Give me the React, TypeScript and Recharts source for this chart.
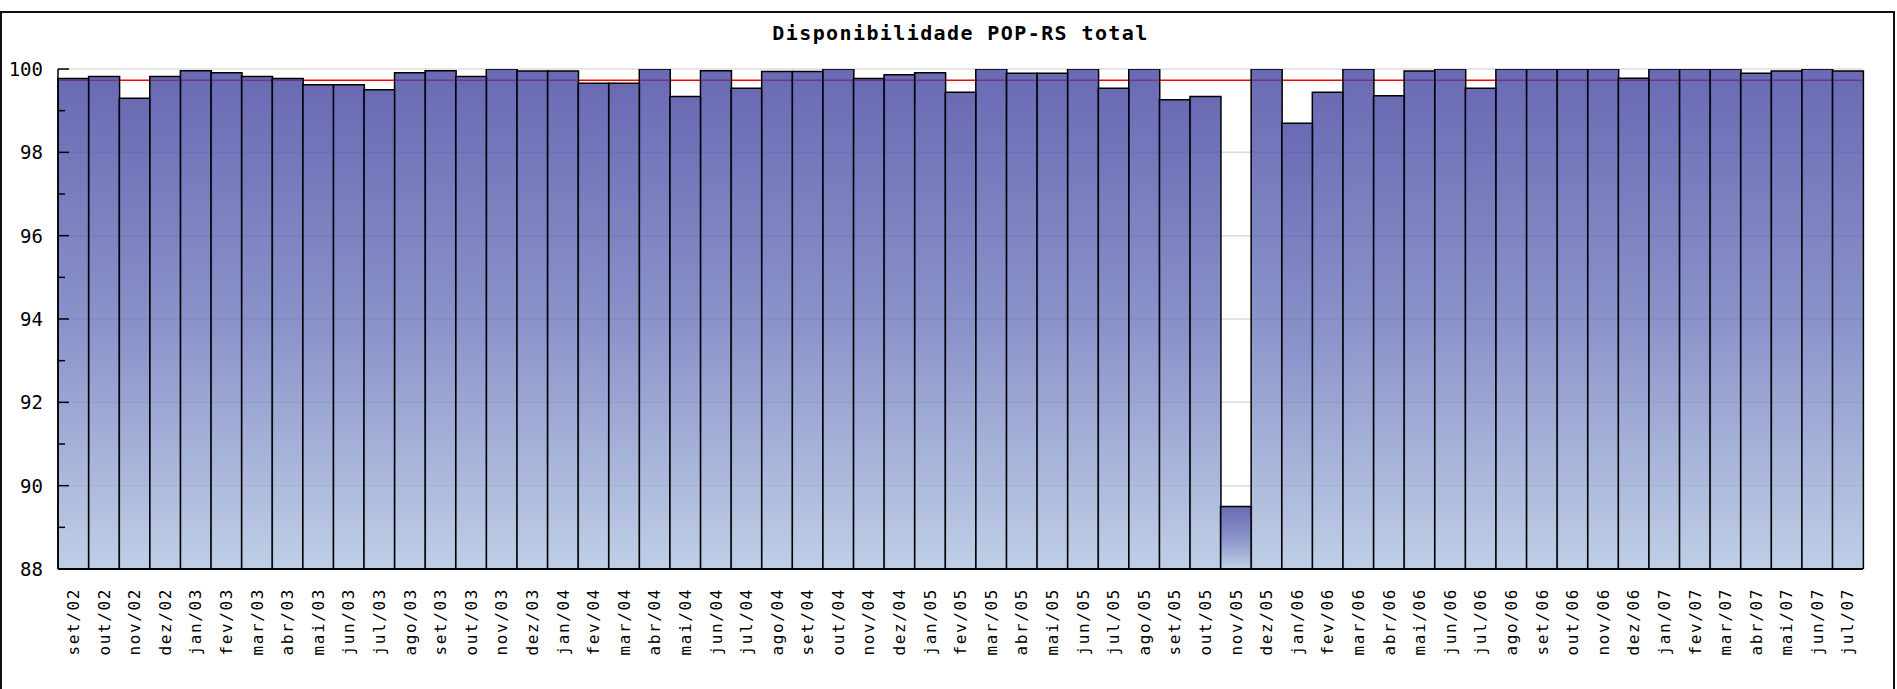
import React from "react";
import { BarChart, Bar, XAxis, YAxis, CartesianGrid, ReferenceLine } from "recharts";

const TITLE = "Disponibilidade POP-RS total";

const CATEGORIES = [
  "set/02", "out/02", "nov/02", "dez/02",
  "jan/03", "fev/03", "mar/03", "abr/03", "mai/03", "jun/03", "jul/03", "ago/03", "set/03", "out/03", "nov/03", "dez/03",
  "jan/04", "fev/04", "mar/04", "abr/04", "mai/04", "jun/04", "jul/04", "ago/04", "set/04", "out/04", "nov/04", "dez/04",
  "jan/05", "fev/05", "mar/05", "abr/05", "mai/05", "jun/05", "jul/05", "ago/05", "set/05", "out/05", "nov/05", "dez/05",
  "jan/06", "fev/06", "mar/06", "abr/06", "mai/06", "jun/06", "jul/06", "ago/06", "set/06", "out/06", "nov/06", "dez/06",
  "jan/07", "fev/07", "mar/07", "abr/07", "mai/07", "jun/07", "jul/07",
];

const VALUES = [
  99.77, 99.82, 99.3, 99.82,
  99.96, 99.91, 99.82, 99.77, 99.62, 99.62, 99.5, 99.91, 99.96, 99.82, 100, 99.95,
  99.95, 99.66, 99.66, 100, 99.34, 99.96, 99.54, 99.94, 99.94, 100, 99.77, 99.86,
  99.91, 99.44, 100, 99.9, 99.9, 100, 99.54, 100, 99.26, 99.34, 89.5, 100,
  98.7, 99.44, 100, 99.36, 99.95, 100, 99.54, 100, 100, 100, 100, 99.78,
  100, 100, 100, 99.9, 99.95, 100, 99.95,
];

const TARGET = 99.73;
const Y_DOMAIN = [88, 100];
const Y_TICKS = [88, 89, 90, 91, 92, 93, 94, 95, 96, 97, 98, 99, 100];
const Y_LABELED = [88, 90, 92, 94, 96, 98, 100];

const data = CATEGORIES.map((c, i) => ({ month: c, value: VALUES[i] }));

const MONO = "'DejaVu Sans Mono', monospace";

const YTick = (props: any) => {
  const { x, y, payload } = props;
  const major = Y_LABELED.includes(payload.value);
  return (
    <g>
      <line x1={x} y1={y} x2={x + (major ? 11 : 7)} y2={y} stroke="#000" strokeWidth={1.5} />
      {major && (
        <text x={x - 15} y={y} dy="0.36em" textAnchor="end" fontFamily={MONO} fontSize={19} fill="#000">
          {payload.value}
        </text>
      )}
    </g>
  );
};

const XTick = (props: any) => {
  const { x, y, payload } = props;
  return (
    <g transform={`translate(${x},${y + 19}) rotate(-90)`}>
      <text x={0} y={0} dy="0.36em" textAnchor="end" fontFamily={MONO} fontSize={16} letterSpacing={1.6} fill="#000">
        {payload.value}
      </text>
    </g>
  );
};

export default function App() {
  return (
    <div style={{ position: "fixed", left: 0, top: 0, width: 1897, height: 689, overflow: "hidden", background: "#fff" }}>
      <div
        style={{
          position: "absolute",
          left: 0,
          top: 11,
          width: 1891,
          height: 700,
          borderLeft: "2px solid #111",
          borderTop: "2px solid #111",
          borderRight: "2px solid #111",
        }}
      />
      <div
        style={{
          position: "absolute",
          left: 58,
          width: 1805,
          top: 21,
          lineHeight: "24px",
          textAlign: "center",
          fontFamily: MONO,
          fontWeight: "bold",
          fontSize: 20,
          letterSpacing: 1.4,
          color: "#000",
        }}
      >
        {TITLE}
      </div>
      <BarChart
        width={1897}
        height={689}
        data={data}
        margin={{ top: 69, right: 34, bottom: 20, left: 0 }}
        barCategoryGap={0}
        barGap={0}
        style={{ position: "absolute", left: 0, top: 0 }}
      >
        <defs>
          <linearGradient id="barGrad" x1="0" y1="0" x2="0" y2="1">
            <stop offset="0%" stopColor="#4545a1" stopOpacity={0.8} />
            <stop offset="50%" stopColor="#6c78bc" stopOpacity={0.8} />
            <stop offset="100%" stopColor="#b0c3e0" stopOpacity={0.8} />
          </linearGradient>
        </defs>
        <CartesianGrid vertical={false} horizontalValues={Y_LABELED} stroke="#dcdcdc" strokeWidth={1.5} />
        <ReferenceLine y={TARGET} stroke="#ff0000" strokeWidth={1.5} zIndex={0} />
        <XAxis
          dataKey="month"
          interval={0}
          height={100}
          tickSize={0}
          tickMargin={0}
          tickLine={false}
          axisLine={{ stroke: "#000", strokeWidth: 2 }}
          tick={<XTick />}
        />
        <YAxis
          domain={Y_DOMAIN}
          ticks={Y_TICKS}
          interval={0}
          allowDataOverflow
          width={58}
          tickSize={0}
          tickMargin={0}
          tickLine={false}
          axisLine={{ stroke: "#000", strokeWidth: 1.5 }}
          tick={<YTick />}
        />
        <Bar dataKey="value" fill="url(#barGrad)" stroke="#000" strokeWidth={1.5} isAnimationActive={false} />
      </BarChart>
    </div>
  );
}
